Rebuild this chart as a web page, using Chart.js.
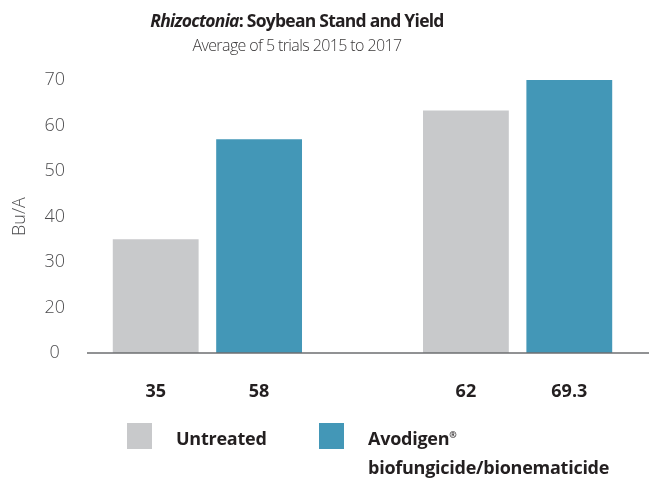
<!DOCTYPE html>
<html>
<head>
<meta charset="utf-8">
<script src="https://cdn.jsdelivr.net/npm/chart.js@4.4.1/dist/chart.umd.min.js"></script>
<style>
  html, body { margin: 0; padding: 0; background: #ffffff; }
  #wrap { position: relative; width: 649px; height: 481px; overflow: hidden; font-family: "Open Sans", "Noto Sans", sans-serif; color: #231F20; }
  #c { position: absolute; left: 0; top: 0; }
  #title { position: absolute; left: 97px; width: 400px; top: 8px; text-align: center; font-weight: 700; font-size: 17.5px; line-height: 24px; letter-spacing: -0.75px; }
  #subtitle { position: absolute; left: 97px; width: 400px; top: 34px; text-align: center; font-weight: 300; font-size: 16px; line-height: 22px; color: #3A3839; letter-spacing: -0.6px; }
  #legend { position: absolute; left: 127px; top: 423px; display: flex; font-weight: 700; font-size: 18px; line-height: 29px; letter-spacing: -0.25px; }
  .item { display: flex; align-items: flex-start; }
  .box { width: 25px; height: 26px; flex: none; margin-right: 24px; }
  .txt { margin-top: 1px; }
  .txt sup { font-size: 9px; vertical-align: 7px; line-height: 0; }
</style>
</head>
<body>
<div id="wrap">
  <canvas id="c" width="649" height="481"></canvas>
  <div id="title"><i>Rhizoctonia</i>: Soybean Stand and Yield</div>
  <div id="subtitle">Average of 5 trials 2015 to 2017</div>
  <div id="legend"></div>
</div>
<script>
// ---- data ----
const categories = ['35', '58', '', '62', '69.3'];
const seriesNames = ['Untreated', 'Avodigen® biofungicide/bionematicide'];
const untreatedValues = [35, null, null, 63.3, null];
const avodigenValues = [null, 57, null, null, 70];
const yTickLabels = ['0', '20', '30', '40', '50', '60', '70'];
const yAxisTitle = 'Bu/A';
const seriesColors = ['#C8C9CB', '#4397B7'];

// baseline drawn across the full plot width (axis decoration)
const baselinePlugin = {
  id: 'baseline',
  afterDatasetsDraw(chart) {
    const ctx = chart.ctx;
    const y = chart.scales.y.getPixelForValue(chart.scales.y.min);
    ctx.save();
    ctx.strokeStyle = '#6D6E71';
    ctx.lineWidth = 1.5;
    ctx.beginPath();
    ctx.moveTo(chart.chartArea.left - 17, y);
    ctx.lineTo(chart.width, y);
    ctx.stroke();
    ctx.restore();
  }
};

const chart = new Chart(document.getElementById('c'), {
  type: 'bar',
  data: {
    labels: categories,
    datasets: [
      { label: seriesNames[0], data: untreatedValues, backgroundColor: seriesColors[0] },
      { label: seriesNames[1], data: avodigenValues, backgroundColor: seriesColors[1] }
    ]
  },
  options: {
    responsive: false,
    animation: false,
    devicePixelRatio: 1,
    layout: { padding: { left: 0, right: 28, top: 80, bottom: 68 } },
    datasets: { bar: { grouped: false, barPercentage: 0.83, categoryPercentage: 1 } },
    plugins: { legend: { display: false }, title: { display: false }, tooltip: { enabled: false } },
    scales: {
      x: {
        offset: true,
        grid: { display: false, drawTicks: false },
        border: { display: false },
        ticks: { color: '#231F20', font: { family: '"Open Sans", sans-serif', size: 18, weight: 'bold' }, padding: 28 },
        afterFit(s) { s.height = 60; }
      },
      y: {
        min: 10, max: 70,
        grid: { display: false, drawTicks: false },
        border: { display: false },
        ticks: {
          stepSize: 10,
          crossAlign: 'center',
          padding: 39,
          color: '#4D4D4F',
          font: { family: '"Open Sans", sans-serif', size: 18, weight: '300' },
          callback: (v, i) => yTickLabels[i]
        },
        title: { display: true, text: yAxisTitle, color: '#4D4D4F', padding: { top: 9, bottom: 0 },
          font: { family: '"Open Sans", sans-serif', size: 18, weight: '300' } },
        afterFit(s) { s.width = 104; }
      }
    }
  },
  plugins: [baselinePlugin]
});

// HTML legend from the chart's datasets
const legend = document.getElementById('legend');
chart.data.datasets.forEach((ds, i) => {
  const item = document.createElement('div');
  item.className = 'item';
  item.style.width = i === 0 ? '192px' : '280px';
  const box = document.createElement('div');
  box.className = 'box';
  box.style.background = ds.backgroundColor;
  const txt = document.createElement('div');
  txt.className = 'txt';
  txt.innerHTML = ds.label.replace('®', '<sup>®</sup>');
  item.appendChild(box);
  item.appendChild(txt);
  legend.appendChild(item);
});
</script>
</body>
</html>
